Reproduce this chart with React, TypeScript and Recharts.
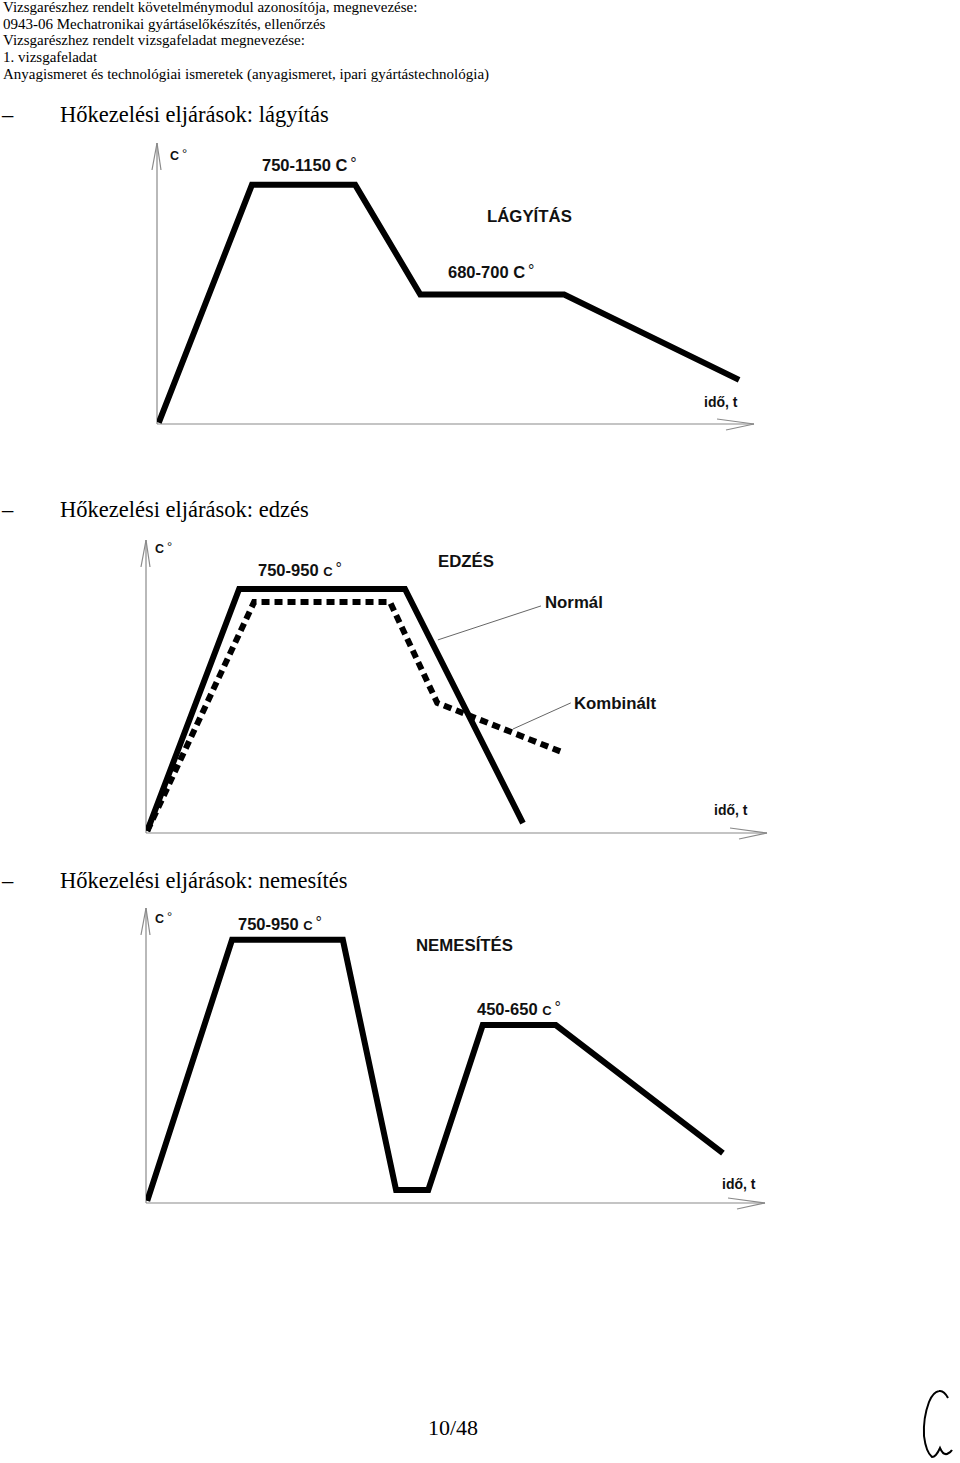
import React from "react";
import { LineChart, Line, XAxis, YAxis, ReferenceLine } from "recharts";

// page text
const headerLines = [
  "Vizsgarészhez rendelt követelménymodul azonosítója, megnevezése:",
  "0943-06 Mechatronikai gyártáselőkészítés, ellenőrzés",
  "Vizsgarészhez rendelt vizsgafeladat megnevezése:",
  "1. vizsgafeladat",
  "Anyagismeret és technológiai ismeretek (anyagismeret, ipari gyártástechnológia)",
];
const headings = [
  "Hőkezelési eljárások: lágyítás",
  "Hőkezelési eljárások: edzés",
  "Hőkezelési eljárások: nemesítés",
];
const pageLabel = "10/48";

// values are % of the drawn axis length (time →, temperature ↑)
const softenTime = [0.3, 15.9, 33.2, 44.1, 68.2, 97.5];
const softenTemp = [0.5, 85.1, 85.1, 46.1, 46.1, 15.7];

const normalTime = [0.2, 15.0, 41.7, 60.7];
const normalTemp = [0.7, 83.3, 83.3, 3.4];
const combinedTime = [0.2, 17.4, 39.3, 46.9, 67.0];
const combinedTemp = [0.7, 78.8, 78.8, 44.4, 27.6];

const temperTime = [0.2, 13.9, 31.8, 40.4, 45.6, 54.4, 66.2, 93.2];
const temperTemp = [0.7, 89.2, 89.2, 4.4, 4.4, 60.3, 60.3, 16.9];

// pointer lines for the legend words (from, to)
const normalPointer = [
  { x: 47.0, y: 65.9 },
  { x: 63.6, y: 77.5 },
];
const combinedPointer = [
  { x: 59.1, y: 35.5 },
  { x: 68.4, y: 44.4 },
];

const toPoints = (t: number[], v: number[]) => t.map((x, i) => ({ t: x, v: v[i] }));

type Series = { data: { t: number; v: number }[]; dashed?: boolean };
type Box = { left: number; top: number; right: number; bottom: number };

const PAD = 14;

function Diagram({ box, series, pointers = [] }: { box: Box; series: Series[]; pointers?: { x: number; y: number }[][] }) {
  const W = box.right - box.left;
  const H = box.bottom - box.top;
  const ux = (px: number) => (px / W) * 100;
  const uy = (px: number) => (px / H) * 100;
  const axisColor = "#8a8a8a";
  const arrows = [
    [{ x: 0, y: 0 }, { x: 0, y: 100 }],
    [{ x: 0, y: 0 }, { x: 100, y: 0 }],
    [{ x: ux(-5), y: 100 - uy(27) }, { x: 0, y: 100 }],
    [{ x: 0, y: 100 }, { x: ux(4), y: 100 - uy(27) }],
    [{ x: 100 - ux(37), y: uy(5) }, { x: 100, y: 0 }],
    [{ x: 100 - ux(28), y: -uy(6) }, { x: 100, y: 0 }],
  ];
  return (
    <div style={{ position: "absolute", left: box.left - PAD, top: box.top - PAD }}>
      <LineChart
        width={W + PAD * 2}
        height={H + PAD * 2}
        margin={{ top: PAD, right: PAD, bottom: PAD, left: PAD }}
      >
        <XAxis type="number" dataKey="t" domain={[0, 100]} hide allowDataOverflow />
        <YAxis type="number" dataKey="v" domain={[0, 100]} hide allowDataOverflow />
        {arrows.map((seg, i) => (
          <ReferenceLine key={"a" + i} segment={seg} ifOverflow="visible" stroke={axisColor} strokeWidth={1.2} />
        ))}
        {pointers.map((seg, i) => (
          <ReferenceLine key={"p" + i} segment={seg} ifOverflow="visible" stroke="#666" strokeWidth={1} />
        ))}
        {series.map((s, i) => (
          <Line
            key={i}
            data={s.data}
            dataKey="v"
            type="linear"
            stroke="#000"
            strokeWidth={6}
            strokeLinejoin="miter"
            strokeDasharray={s.dashed ? "8 5" : undefined}
            dot={false}
            activeDot={false}
            isAnimationActive={false}
          />
        ))}
      </LineChart>
    </div>
  );
}

const sans = "'Liberation Sans', Arial, sans-serif";
const serif = "'Liberation Serif', 'Times New Roman', serif";

function Temp({ x, y, value, cSize = 16.5 }: { x: number; y: number; value: string; cSize?: number }) {
  return (
    <text x={x} y={y} fontFamily={sans} fontWeight="bold" fontSize={16.5} fill="#111">
      {value + " "}
      <tspan fontSize={cSize}>C</tspan>
      <tspan dx={3} dy={-2} fontSize={16} fontWeight="normal">°</tspan>
    </text>
  );
}

function AxisC({ x, y }: { x: number; y: number }) {
  return (
    <text x={x} y={y} fontFamily={sans} fontWeight="bold" fontSize={12.5} fill="#111">
      C<tspan dx={3} dy={-2} fontSize={13} fontWeight="normal">°</tspan>
    </text>
  );
}

function Word({ x, y, children, size = 16.8 }: { x: number; y: number; children: React.ReactNode; size?: number }) {
  return (
    <text x={x} y={y} fontFamily={sans} fontWeight="bold" fontSize={size} fill="#111">
      {children}
    </text>
  );
}

export default function App() {
  return (
    <div style={{ position: "absolute", left: 0, top: 0, width: 960, height: 1463, background: "#fff", overflow: "hidden" }}>
      <Diagram
        box={{ left: 157, top: 143, right: 754, bottom: 424 }}
        series={[{ data: toPoints(softenTime, softenTemp) }]}
      />
      <Diagram
        box={{ left: 146, top: 540, right: 767, bottom: 833 }}
        series={[
          { data: toPoints(normalTime, normalTemp) },
          { data: toPoints(combinedTime, combinedTemp), dashed: true },
        ]}
        pointers={[normalPointer, combinedPointer]}
      />
      <Diagram
        box={{ left: 146, top: 908, right: 765, bottom: 1203 }}
        series={[{ data: toPoints(temperTime, temperTemp) }]}
      />

      <svg width={960} height={1463} style={{ position: "absolute", left: 0, top: 0, pointerEvents: "none" }}>
        {headerLines.map((l, i) => (
          <text key={i} x={3} y={12 + i * 16.67} fontFamily={serif} fontSize={15} fill="#000">
            {l}
          </text>
        ))}
        {headings.map((h, i) => {
          const y = [122, 517, 888][i];
          return (
            <g key={i}>
              <text x={2} y={y} fontFamily={serif} fontSize={22.5} fill="#000">–</text>
              <text x={60} y={y} fontFamily={serif} fontSize={22.5} fill="#000">{h}</text>
            </g>
          );
        })}

        {/* lágyítás */}
        <AxisC x={170} y={160} />
        <Temp x={262} y={171} value="750-1150" />
        <Word x={487} y={222}>LÁGYÍTÁS</Word>
        <Temp x={448} y={278} value="680-700" />
        <Word x={704} y={407} size={14}>idő, t</Word>

        {/* edzés */}
        <AxisC x={155} y={553} />
        <Temp x={258} y={576} value="750-950" cSize={13} />
        <Word x={438} y={567}>EDZÉS</Word>
        <Word x={545} y={608}>Normál</Word>
        <Word x={574} y={709}>Kombinált</Word>
        <Word x={714} y={815} size={14}>idő, t</Word>

        {/* nemesítés */}
        <AxisC x={155} y={923} />
        <Temp x={238} y={930} value="750-950" cSize={13} />
        <Word x={416} y={951}>NEMESÍTÉS</Word>
        <Temp x={477} y={1015} value="450-650" cSize={13} />
        <Word x={722} y={1189} size={14}>idő, t</Word>

        <text x={428} y={1435} fontFamily={serif} fontSize={22} fill="#000">{pageLabel}</text>
        <path
          d="M948,1398 Q944,1390 939,1391 Q933,1392 929,1402 Q923,1418 924,1436 Q926,1452 932,1457 Q936,1457 940,1448 Q943,1455 947,1454 Q951,1452 952,1450"
          fill="none"
          stroke="#000"
          strokeWidth={2}
        />
      </svg>
    </div>
  );
}
